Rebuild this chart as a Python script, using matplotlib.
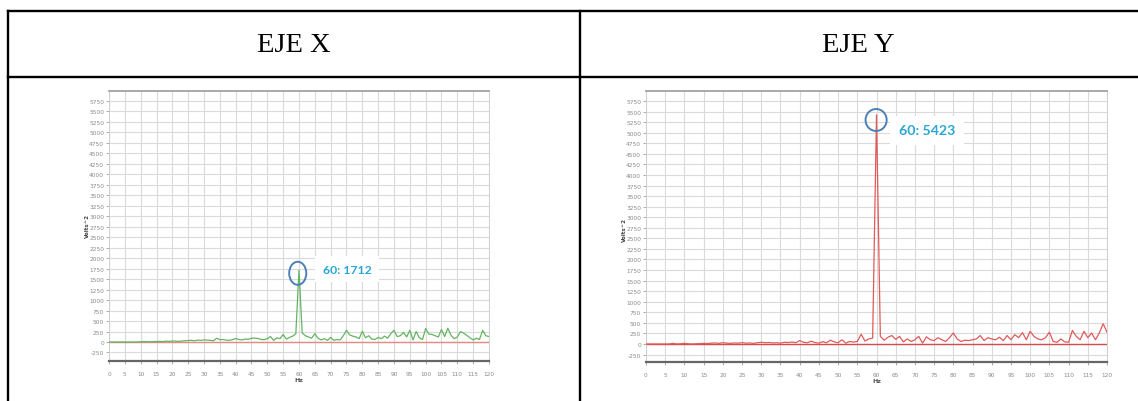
import numpy as np
import matplotlib
matplotlib.use("Agg")
import matplotlib.pyplot as plt
from matplotlib.lines import Line2D
from matplotlib.patches import Ellipse

# ---- data -------------------------------------------------------------
headers = ["EJE X", "EJE Y"]
freq_hz = np.arange(0, 121)          # spectrum bins, 1 Hz apart

amp_x = [
    0, 0, 0, 0, 0, 0, 0, 0, 0, 0,
    8, 10, 6, 5, 10,
    12, 15, 10, 20, 15,
    25, 20, 15, 25, 30,
    35, 40, 30, 45, 40,
    50, 45, 40, 30, 90,
    55, 60, 45, 40, 55,
    85, 60, 50, 70, 65,
    90, 95, 85, 60, 55,
    80, 130, 40, 100, 80,
    180, 70, 110, 140, 200,
    1712,
    220, 150, 120, 90,
    200, 90, 50, 80, 40,
    110, 40, 60, 50, 150,
    280, 170, 140, 120, 80,
    260, 100, 150, 70, 60,
    110, 80, 140, 90, 200,
    280, 130, 150, 230, 120,
    280, 50, 250, 100, 60,
    320, 190, 180, 150, 120,
    300, 130, 330, 160, 80,
    120, 250, 210, 160, 100,
    50, 90, 60, 280, 150,
    130,
]

amp_y = [
    0, 0, 0, 0, 0, 0, 0,
    15, 0, 5, 15, 5, 0, 5, 10,
    15, 10, 20, 25, 15,
    30, 20, 15, 25, 20,
    30, 20, 25, 15, 30,
    40, 30, 35, 25, 30,
    20, 40, 35, 45, 30,
    80, 40, 30, 65, 35,
    20, 55, 30, 90, 50,
    30, 100, 20, 60, 45,
    60, 230, 70, 120, 140,
    5423,
    180, 90, 160, 200,
    110, 180, 50, 120, 60,
    100, 180, 20, 170, 100,
    80, 150, 100, 60, 150,
    260, 120, 60, 90, 80,
    100, 120, 200, 80, 150,
    120, 100, 160, 80, 200,
    100, 220, 150, 270, 100,
    300, 180, 120, 100, 150,
    280, 60, 40, 120, 50,
    40, 320, 180, 100, 300,
    150, 260, 100, 260, 480,
    280,
]

peak_hz = [60, 60]
peak_val = [1712, 5423]
y_label = "Volts^2"
x_label = "Hz"
x_ticks = list(range(0, 121, 5))
y_ticks = list(range(-250, 6000, 250))

# ---- figure -----------------------------------------------------------
W, H = 1138, 402
fig = plt.figure(figsize=(W / 100, H / 100), dpi=100)
fig.patch.set_facecolor("white")


def fx(px):
    return px / W


def fy(py):
    return 1 - py / H


def hline(y, x0, x1, lw=1.7):
    fig.add_artist(Line2D([fx(x0), fx(x1)], [fy(y), fy(y)],
                          color="black", lw=lw, transform=fig.transFigure))


def vline(x, y0, y1, lw=1.7):
    fig.add_artist(Line2D([fx(x), fx(x)], [fy(y0), fy(y1)],
                          color="black", lw=lw, transform=fig.transFigure))


# table frame
hline(12, 8, W)
hline(78, 8, W)
vline(8, 12, H)
vline(580, 12, H)

fig.text(fx(294), fy(45), headers[0], ha="center", va="center",
         family="Liberation Serif", fontsize=20.5)
fig.text(fx(858), fy(45), headers[1], ha="center", va="center",
         family="Liberation Serif", fontsize=20.5)

panels = [
    dict(box=(109, 92, 489, 362), amp=amp_x, color="#62b562",
         base="#e58a80", ylim=(-453, 5989), text_font=8.8,
         text_x=67.5, text_y=1740, ell=(59.6, 1640, 5.4, 550), lab_y=226),
    dict(box=(646, 92, 1107, 363), amp=amp_y, color="#e05a5a",
         base="#d94a4a", ylim=(-426, 5986), text_font=10.2,
         text_x=65.8, text_y=5060, ell=(59.9, 5300, 5.5, 520), lab_y=230),
]

for i, p in enumerate(panels):
    x0, y0, x1, y1 = p["box"]
    ax = fig.add_axes([fx(x0), fy(y1), fx(x1 - x0), (y1 - y0) / H])
    ax.set_xlim(0, 120)
    ax.set_ylim(*p["ylim"])
    ax.set_xticks(x_ticks)
    ax.set_yticks(y_ticks)
    ax.set_xticklabels([str(t) for t in x_ticks])
    ax.set_yticklabels([str(t) for t in y_ticks])
    ax.tick_params(axis="both", labelsize=4.2, colors="#8a8a8a",
                   length=2, width=0.5, pad=1.5)
    ax.tick_params(axis="x", pad=5)
    ax.grid(True, color="#dadada", lw=0.8)
    ax.set_axisbelow(True)
    for side in ("left", "right"):
        ax.spines[side].set_color("#cfcfcf")
        ax.spines[side].set_linewidth(0.7)
    ax.spines["top"].set_color("#9a9a9a")
    ax.spines["top"].set_linewidth(1.2)
    ax.spines["bottom"].set_color("#666666")
    ax.spines["bottom"].set_linewidth(1.6)

    ax.axhline(0, color=p["base"], lw=1.0, zorder=2)
    ax.plot(freq_hz, p["amp"], color=p["color"], lw=0.9, zorder=3)

    cx, cy, ew, eh = p["ell"]
    ax.add_patch(Ellipse((cx, cy), ew, eh, fill=False, ec="#4d7fb8",
                         lw=1.4, zorder=4))
    ax.text(p["text_x"], p["text_y"], f"{peak_hz[i]}: {peak_val[i]}",
            ha="left", va="center", family="Lato", fontweight="bold",
            fontsize=p["text_font"], color="#2aa6d4", zorder=5,
            bbox=dict(boxstyle="square,pad=0.6", fc="white", ec="none"))

    ax.set_xlabel(x_label, fontsize=4.5, fontweight="bold", color="#555555",
                  labelpad=1)
    fig.text(fx(x0 - 22), fy(p["lab_y"]), y_label, rotation=90,
             ha="center", va="center", fontsize=4, fontweight="bold",
             color="#444444")

fig.savefig("out.png", dpi=100, facecolor="white")
